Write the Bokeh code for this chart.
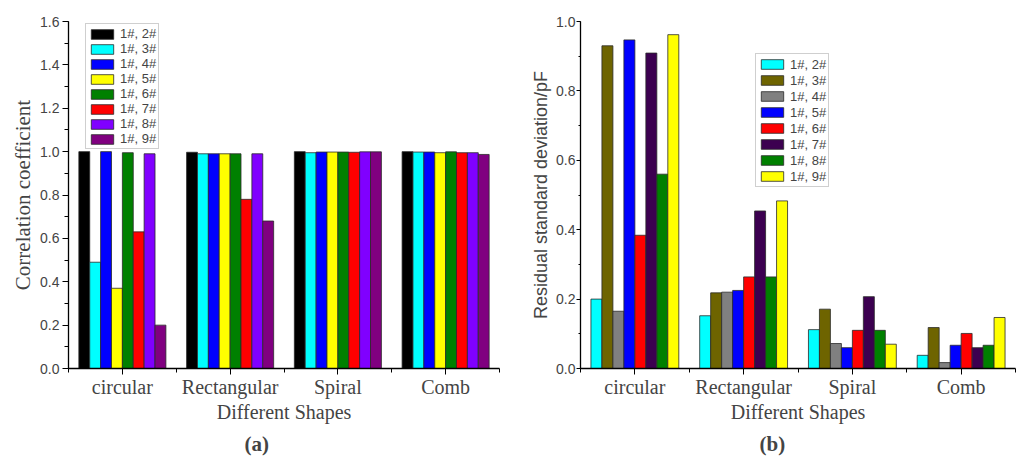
import numpy as np
from bokeh.embed import file_html
from bokeh.layouts import row
from bokeh.models import FixedTicker, PrintfTickFormatter, Range1d, SingleIntervalTicker, Title
from bokeh.plotting import figure
from bokeh.resources import INLINE

# categories on the x axis
shapes = ["circular", "Rectangular", "Spiral", "Comb"]

# (a) correlation coefficient
pairs_a = ["1#, 2#", "1#, 3#", "1#, 4#", "1#, 5#", "1#, 6#", "1#, 7#", "1#, 8#", "1#, 9#"]
colors_a = ["#000000", "#00FFFF", "#0000FF", "#FFFF00", "#008000", "#FF0000", "#8000FF", "#800080"]
corr_12 = [1.000, 0.997, 1.000, 1.000]
corr_13 = [0.490, 0.990, 0.995, 0.998]
corr_14 = [1.000, 0.990, 0.998, 0.998]
corr_15 = [0.370, 0.990, 0.998, 0.995]
corr_16 = [0.995, 0.990, 0.998, 0.999]
corr_17 = [0.630, 0.780, 0.997, 0.995]
corr_18 = [0.990, 0.990, 0.999, 0.995]
corr_19 = [0.200, 0.680, 0.999, 0.987]

# (b) residual standard deviation / pF
pairs_b = ["1#, 2#", "1#, 3#", "1#, 4#", "1#, 5#", "1#, 6#", "1#, 7#", "1#, 8#", "1#, 9#"]
colors_b = ["#00FFFF", "#6E6400", "#808080", "#0000FF", "#FF0000", "#3C0050", "#008000", "#FFFF00"]
rsd_12 = [0.200, 0.152, 0.112, 0.038]
rsd_13 = [0.930, 0.218, 0.171, 0.118]
rsd_14 = [0.165, 0.220, 0.072, 0.017]
rsd_15 = [0.947, 0.225, 0.060, 0.067]
rsd_16 = [0.384, 0.264, 0.110, 0.101]
rsd_17 = [0.909, 0.454, 0.207, 0.060]
rsd_18 = [0.560, 0.264, 0.110, 0.067]
rsd_19 = [0.962, 0.483, 0.070, 0.147]

SERIF = "Liberation Serif"
SANS = "Liberation Sans"
BAR_W = 0.101


def make_panel(series, colors, labels, y_end, y_title, title_font, title_size,
               border_right, tick_out, tick_standoff, title_standoff, legend_loc,
               item_h, tag, tag_offset):
    p = figure(width=512, height=473, output_backend="svg", toolbar_location=None,
               x_range=Range1d(0, 4), y_range=Range1d(0, y_end),
               min_border_left=68, min_border_right=border_right,
               min_border_top=21, min_border_bottom=105,
               x_axis_label="Different Shapes", y_axis_label=y_title)
    p.outline_line_color = None
    p.xgrid.visible = False
    p.ygrid.visible = False

    centers = np.arange(len(shapes)) + 0.5
    n = len(series)
    for j, (vals, col, lab) in enumerate(zip(series, colors, labels)):
        xs = centers + (j - (n - 1) / 2) * BAR_W
        p.vbar(x=xs, top=vals, width=BAR_W, bottom=0, fill_color=col,
               line_color="#2a2a2a", line_width=0.8, legend_label=lab)

    # x axis: shape names at the group centers, minor ticks at the group borders
    xa = p.xaxis[0]
    xa.ticker = FixedTicker(ticks=list(centers), minor_ticks=list(range(len(shapes) + 1)))
    xa.major_label_overrides = {float(c): s for c, s in zip(centers, shapes)}
    xa.major_label_text_font = SERIF
    xa.major_label_text_font_size = "20px"
    xa.major_label_standoff = 1
    xa.axis_label_text_font = SERIF
    xa.axis_label_text_font_size = "20px"
    xa.axis_label_text_font_style = "normal"
    xa.axis_label_standoff = 0
    xa.major_tick_out = 6
    xa.major_tick_in = 0
    xa.minor_tick_out = 4
    xa.minor_tick_in = 0
    xa.axis_line_width = 1.3

    ya = p.yaxis[0]
    ya.ticker = SingleIntervalTicker(interval=0.2, num_minor_ticks=2)
    ya.formatter = PrintfTickFormatter(format="%.1f")
    ya.major_label_text_font = SANS
    ya.major_label_text_font_size = "14px"
    ya.major_label_standoff = tick_standoff
    ya.axis_label_text_font = title_font
    ya.axis_label_text_font_size = title_size
    ya.axis_label_text_font_style = "normal"
    ya.axis_label_standoff = title_standoff
    ya.major_tick_out = tick_out
    ya.major_tick_in = 0
    ya.minor_tick_out = tick_out - 2
    ya.minor_tick_in = 0
    ya.axis_line_width = 1.3

    lg = p.legend[0]
    lg.location = legend_loc
    lg.label_text_font = SANS
    lg.label_text_font_size = "13px"
    lg.glyph_width = 28
    lg.glyph_height = 12
    lg.label_height = item_h
    lg.label_standoff = 4
    lg.spacing = 0
    lg.padding = 2
    lg.margin = 0
    lg.border_line_color = "#a0a0a0"
    lg.border_line_width = 1.5

    # panel tag under the axis title
    p.add_layout(Title(text=tag, align="left", offset=tag_offset, standoff=8,
                       text_font=SERIF, text_font_size="21px", text_font_style="bold"), "below")
    return p


p1 = make_panel([corr_12, corr_13, corr_14, corr_15, corr_16, corr_17, corr_18, corr_19],
                colors_a, pairs_a, 1.6, "Correlation coefficient", SERIF, "21px",
                13, 6, 3, 2, (17, 219), 15, "(a)", 176)
p2 = make_panel([rsd_12, rsd_13, rsd_14, rsd_15, rsd_16, rsd_17, rsd_18, rsd_19],
                colors_b, pairs_b, 1.0, "Residual standard deviation/pF", SANS, "18px",
                9, 4, 1, 2, (175, 181), 16, "(b)", 179)

p = row(p1, p2)
open("out.html", "w").write(file_html(p, INLINE))
